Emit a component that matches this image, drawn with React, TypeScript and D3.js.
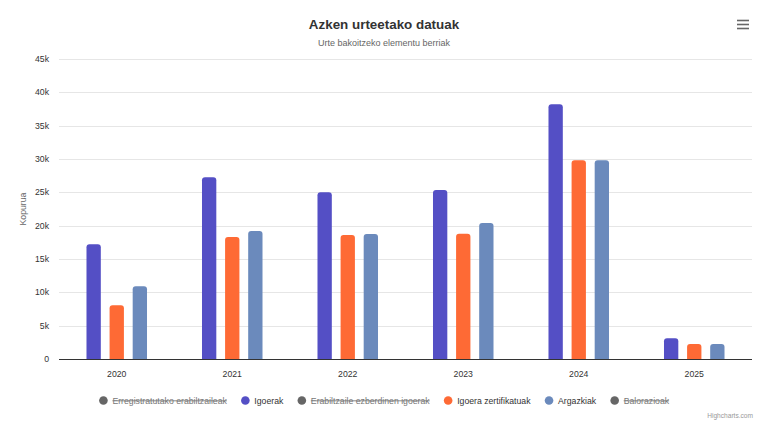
import React from "react";
import * as d3 from "d3";

const categories = ["2020", "2021", "2022", "2023", "2024", "2025"];
const igoerak = [17200, 27250, 25000, 25350, 38200, 3100];
const igoeraZertifikatuak = [8050, 18300, 18600, 18800, 29800, 2250];
const argazkiak = [10900, 19200, 18750, 20400, 29800, 2250];
const yTicks = [0, 5000, 10000, 15000, 20000, 25000, 30000, 35000, 40000, 45000];

const legendItems = [
  { name: "Erregistratutako erabiltzaileak", visible: false },
  { name: "Igoerak", visible: true },
  { name: "Erabiltzaile ezberdinen igoerak", visible: false },
  { name: "Igoera zertifikatuak", visible: true },
  { name: "Argazkiak", visible: true },
  { name: "Balorazioak", visible: false },
];

const W = 768;
const H = 436;
const FONT = '"Liberation Sans", Arial, Helvetica, sans-serif';

export default function App() {
  const left = 59, right = 752, top = 59, bottom = 359;
  const series = [
    { name: "Igoerak", values: igoerak, color: "#544fc5" },
    { name: "Igoera zertifikatuak", values: igoeraZertifikatuak, color: "#fe6a35" },
    { name: "Argazkiak", values: argazkiak, color: "#6b8abc" },
  ];
  const legendColors: Record<string, string> = {
    Igoerak: "#544fc5",
    "Igoera zertifikatuak": "#fe6a35",
    Argazkiak: "#6b8abc",
  };
  const x0 = d3.scaleBand<string>().domain(categories).range([left, right]).padding(0);
  const gw = x0.bandwidth() * 0.6;
  const x1 = d3
    .scaleBand<number>()
    .domain(series.map((_, i) => i))
    .range([0, gw])
    .paddingInner(0.38)
    .paddingOuter(0.19);
  const y = d3.scaleLinear().domain([0, 45000]).range([bottom, top]);
  const fmt = (v: number) => (v === 0 ? "0" : `${v / 1000}k`);

  const barPath = (bx: number, by: number, bw: number, bh: number) => {
    const r = Math.min(3, bh);
    return `M${bx},${by + bh} L${bx},${by + r} Q${bx},${by} ${bx + r},${by} L${bx + bw - r},${by} Q${bx + bw},${by} ${bx + bw},${by + r} L${bx + bw},${by + bh} Z`;
  };

  // legend layout
  const legendFont = 8.7;
  const measure = (s: string) => {
    if (typeof document === "undefined") return s.length * 4.5;
    const c = (measure as any).c || ((measure as any).c = document.createElement("canvas"));
    const ctx = c.getContext("2d");
    ctx.font = `${legendFont}px ${FONT}`;
    return ctx.measureText(s).width;
  };
  const symW = 9, gapSym = 4.5, itemGap = 14;
  const widths = legendItems.map((it) => symW + gapSym + measure(it.name));
  const totalW = widths.reduce((a, b) => a + b, 0) + itemGap * (legendItems.length - 1);
  let lx = W / 2 - totalW / 2;
  const legendPos = widths.map((w) => {
    const p = lx;
    lx += w + itemGap;
    return p;
  });

  return (
    <svg
      width={W}
      height={H}
      style={{ position: "absolute", left: 0, top: 0, background: "#fff" }}
      fontFamily={FONT}
    >
      <rect width={W} height={H} fill="#fff" />
      <text x={W / 2} y={29} textAnchor="middle" fontSize={13.4} fontWeight="bold" fill="#333">
        Azken urteetako datuak
      </text>
      <text x={W / 2} y={46} textAnchor="middle" fontSize={9} fill="#666">
        Urte bakoitzeko elementu berriak
      </text>
      <g stroke="#666" strokeWidth={1.6}>
        {[20.5, 24.5, 28.5].map((yy) => (
          <line key={yy} x1={737} x2={749} y1={yy} y2={yy} />
        ))}
      </g>

      {yTicks.map((t) => (
        <g key={t}>
          {t !== 0 && (
            <line x1={left} x2={right} y1={Math.round(y(t)) + 0.5} y2={Math.round(y(t)) + 0.5} stroke="#e6e6e6" />
          )}
          <text x={49} y={y(t) + 3} textAnchor="end" fontSize={8.7} fill="#333">
            {fmt(t)}
          </text>
        </g>
      ))}
      <text
        transform={`translate(26,${(top + bottom) / 2}) rotate(-90)`}
        textAnchor="middle"
        fontSize={8.7}
        fill="#666"
      >
        Kopurua
      </text>

      {categories.map((c, ci) => (
        <g key={c} transform={`translate(${(x0(c) as number) + (x0.bandwidth() - gw) / 2},0)`}>
          {series.map((s, si) => {
            const v = s.values[ci];
            const bx = x1(si) as number;
            const by = y(v);
            return <path key={si} d={barPath(bx, by, x1.bandwidth(), bottom - by)} fill={s.color} />;
          })}
        </g>
      ))}
      <line x1={left} x2={right} y1={359.5} y2={359.5} stroke="#333" />
      {categories.map((c) => (
        <text key={c} x={(x0(c) as number) + x0.bandwidth() / 2} y={377} textAnchor="middle" fontSize={8.7} fill="#333">
          {c}
        </text>
      ))}

      {legendItems.map((it, i) => (
        <g key={it.name} transform={`translate(${legendPos[i]},0)`}>
          <circle cx={symW / 2} cy={400.5} r={4.3} fill={it.visible ? legendColors[it.name] : "#666"} />
          <text
            x={symW + gapSym}
            y={403.5}
            fontSize={legendFont}
            fill={it.visible ? "#333" : "#777"}
            textDecoration={it.visible ? undefined : "line-through"}
          >
            {it.name}
          </text>
        </g>
      ))}

      <text x={753} y={417.5} textAnchor="end" fontSize={6.6} fill="#999">
        Highcharts.com
      </text>
    </svg>
  );
}
